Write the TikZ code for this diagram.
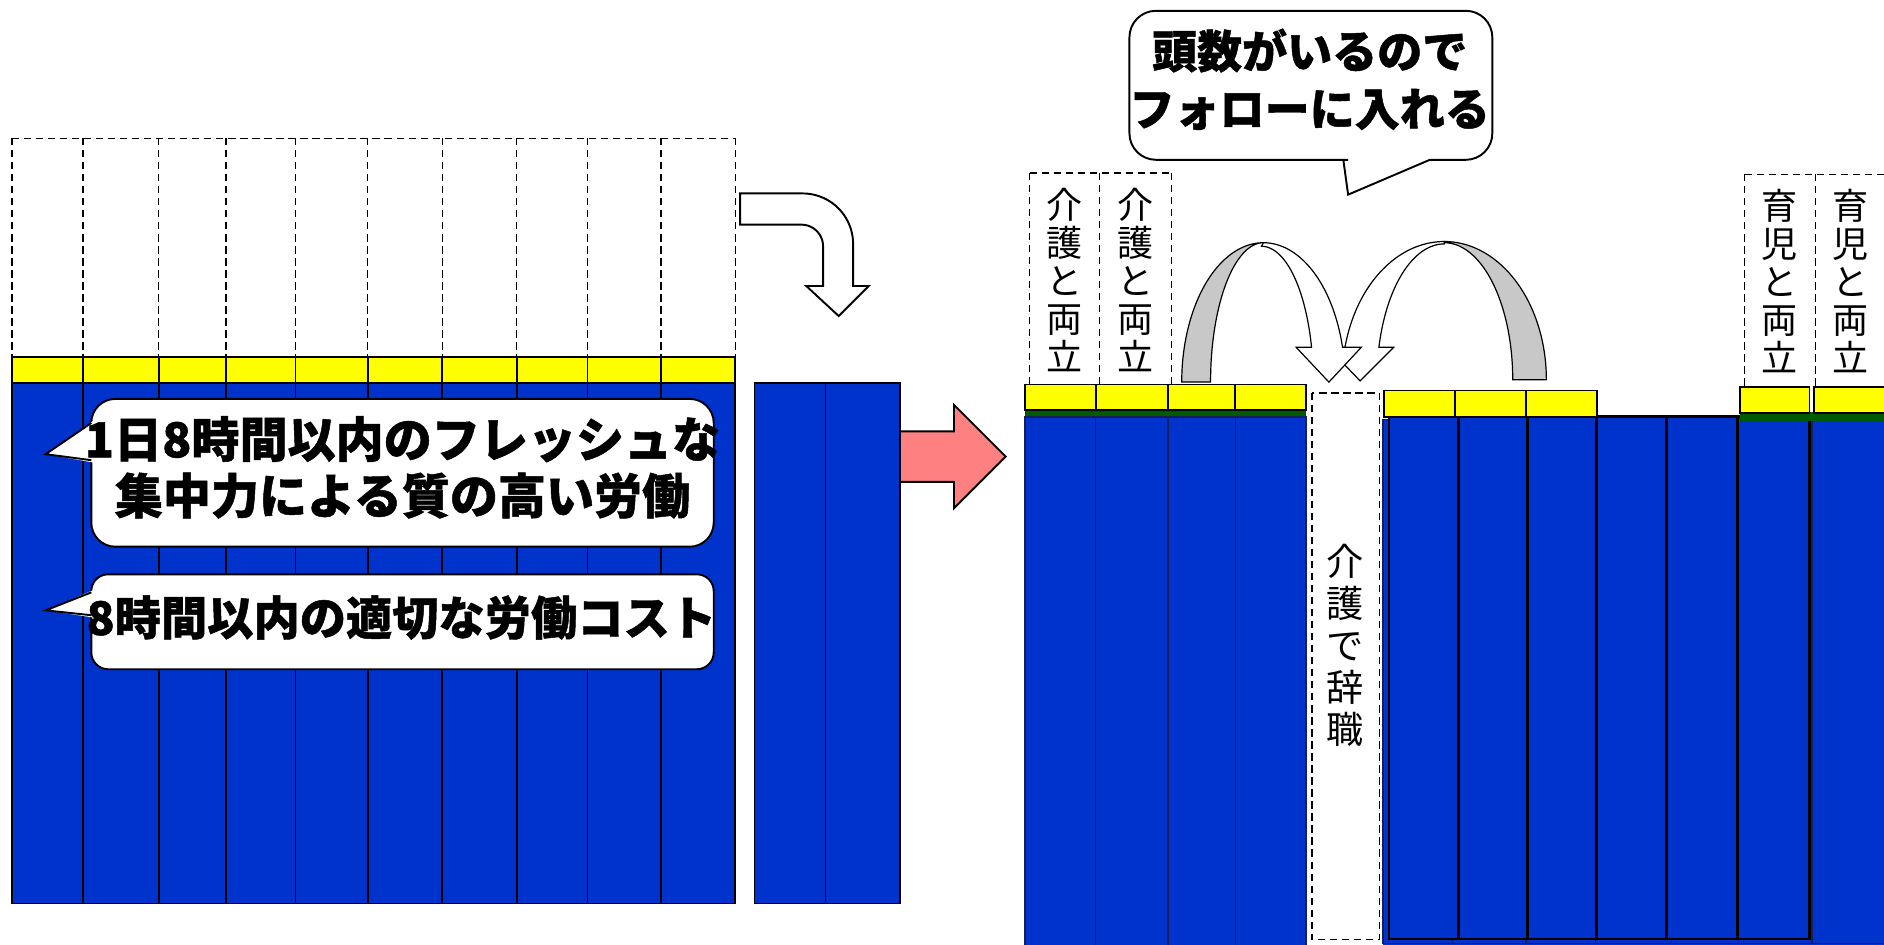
\documentclass[tikz,border=0pt]{standalone}
\usepackage{fontspec}
\newfontfamily\jp{Noto Sans CJK JP}[BoldFeatures={FakeBold=1}]
\definecolor{cblue}{RGB}{0,51,204}
\definecolor{cyel}{RGB}{255,255,0}
\definecolor{cpink}{RGB}{255,128,128}
\definecolor{cgray}{RGB}{200,200,200}
\definecolor{cgreen}{RGB}{0,90,0}
\definecolor{cnavy}{RGB}{20,30,90}
\tikzset{
  cellk/.style={draw=black, line width=0.75pt},
  cellthick/.style={draw=black, line width=1.2pt},
  cellthin/.style={draw=cnavy, line width=0.5pt},
  dashline/.style={draw=black, dash pattern=on 3pt off 2pt, line width=0.55pt},
  bubble/.style={draw=black, fill=white, line width=0.8pt},
  archline/.style={draw=black, line width=0.5pt},
  hookline/.style={draw=black, line width=0.8pt},
  bigtext/.style={font=\jp\bfseries\fontsize{20}{23.5}\selectfont, align=center, inner sep=0pt},
  midtext/.style={font=\jp\bfseries\fontsize{19.25}{23}\selectfont, align=center, inner sep=0pt},
  toptext/.style={font=\jp\bfseries\fontsize{18.75}{24}\selectfont, align=center, inner sep=0pt},
  vtext/.style={font=\jp\fontsize{15}{15.75}\selectfont, align=center, inner sep=0pt},
  vtextb/.style={font=\jp\fontsize{15.5}{17.5}\selectfont, align=center, inner sep=0pt},
}
\begin{document}
\begin{tikzpicture}[x=0.5pt,y=-0.5pt]
\useasboundingbox (0,0) rectangle (1568,786);
\fill[white] (0,0) rectangle (1568,786);
\clip (0,0) rectangle (1568,786);

% ---------- left section ----------
\draw[dashline] (10,115) -- (612,115);
\foreach \x in {10,69,132,188,246,306,368,430,489,550,612}{
  \draw[dashline] (\x,115) -- (\x,297);
}
\foreach \a/\b in {10/69,69/132,132/188,188/246,246/306,306/368,368/430,430/489,489/550,550/612}{
  \draw[cellk, fill=cyel] (\a,297) rectangle (\b,319);
  \draw[cellk, fill=cblue] (\a,319) rectangle (\b,752);
}

% hook arrow
\draw[hookline, fill=white] (616,161) -- (668,161)
  -- plot[domain=270:360, samples=30] ({668+42*cos(\x)},{203+42*sin(\x)})
  -- (710,238) -- (723,238) -- (698,263) -- (671,238) -- (685,238)
  -- plot[domain=360:270, samples=30] ({667+18*cos(\x)},{205+18*sin(\x)})
  -- (616,187) -- cycle;

% pink arrow
\draw[line width=0.8pt, fill=cpink] (749,359) -- (794,359) -- (794,337) -- (837,380) -- (794,423) -- (794,401) -- (749,401);

% second small block
\draw[cellk, fill=cblue] (628,319) rectangle (687,752);
\draw[cellk, fill=cblue] (687,319) rectangle (749,752);

% bubble 1
\draw[bubble, rounded corners=10pt] (76,332) rectangle (594,455);
\fill[white] (38,378) -- (78,350) -- (78,385) -- cycle;
\draw[line width=0.8pt] (76,352) -- (38,378) -- (76,383);
\node[bigtext] (b1) at (335,389) {1日8時間以内のフレッシュな\\集中力による質の高い労働};

% bubble 2
\draw[bubble, rounded corners=7pt] (76,478) rectangle (594,557);
\fill[white] (38,508) -- (78,491) -- (78,514) -- cycle;
\draw[line width=0.8pt] (76,493) -- (38,508) -- (76,512);
\node[midtext] (b2) at (334,514) {8時間以内の適切な労働コスト};

% ---------- right section ----------
% group 1 (kaigo)
\draw[dashline] (857,144) -- (975,144);
\foreach \x in {857,915,975}{ \draw[dashline] (\x,144) -- (\x,320); }
\node[vtext] (k1) at (886,233) {介\\護\\と\\両\\立};
\node[vtext] (k2) at (945,233) {介\\護\\と\\両\\立};
\fill[cgreen] (853,340) rectangle (1087,348);
\foreach \a/\b in {853/912,912/972,972/1028,1028/1087}{
  \draw[cellthin, fill=cblue] (\a,347) rectangle (\b,790);
  \draw[cellk, fill=cyel] (\a,320) rectangle (\b,341);
}

% resigned box
\draw[dashline] (1092,327) rectangle (1148,782);
\node[vtextb] (jishoku) at (1119.5,537) {介\\護\\で\\辞\\職};

% background layer of group 2-4
\fill[cblue] (1151,349) rectangle (1572,790);
\foreach \a/\b in {1151/1209,1209/1270,1270/1328,1328/1391,1391/1451,1451/1508,1508/1572}{
  \draw[cellthin] (\a,349) rectangle (\b,785);
}
% group 2 thick columns
\foreach \a/\b in {1156/1213.5,1213.5/1271,1271/1329,1329/1387,1387/1446,1446/1506}{
  \draw[cellthick, fill=cblue] (\a,347) rectangle (\b,781.5);
}
\foreach \a/\b in {1152/1211,1211/1270,1270/1329}{
  \draw[cellk, fill=cyel] (\a,325) rectangle (\b,347);
}
% group 3/4 (ikuji)
\fill[cgreen] (1448,343) rectangle (1572,350);
\draw[cellk, fill=cyel] (1448,322) rectangle (1506,344);
\draw[cellk, fill=cyel] (1510,322) rectangle (1575,344);
\draw[dashline] (1452,145) -- (1572,145);
\foreach \x in {1452,1511}{ \draw[dashline] (\x,145) -- (\x,322); }
\node[vtext] (i1) at (1481,234) {育\\児\\と\\両\\立};
\node[vtext] (i2) at (1540,234) {育\\児\\と\\両\\立};

% right arch (drawn first)
\draw[archline, fill=cgray]
  plot[domain=360:270, samples=40] ({1202+85*cos(\x)},{316+115*sin(\x)})
  -- plot[domain=270:360, samples=40] ({1202+57*cos(\x)},{316+114*sin(\x)}) -- cycle;
\draw[archline, fill=white]
  plot[domain=270:193.58, samples=40] ({1202+85*cos(\x)},{316+115*sin(\x)})
  -- (1105,289) -- (1132,317) -- (1160,289)
  -- plot[domain=193.82:270, samples=40] ({1202+56*cos(\x)},{316+113*sin(\x)}) -- cycle;

% left arch
\draw[archline, fill=cgray]
  plot[domain=180:270, samples=40] ({1051.5+68*cos(\x)},{318+116*sin(\x)})
  -- plot[domain=270:180, samples=40] ({1051.5+44*cos(\x)},{318+116*sin(\x)}) -- cycle;
\draw[archline, fill=white]
  plot[domain=270:345.5, samples=40] ({1051.5+68*cos(\x)},{318+116*sin(\x)})
  -- (1133,289) -- (1106,318) -- (1078.7,289)
  -- plot[domain=345.13:270, samples=40] ({1050+43*cos(\x)},{318+113*sin(\x)}) -- cycle;

% top bubble
\draw[bubble] (1122,162) -- (1190,133) -- (1200,133) [rounded corners=11pt] -- (1242,133) -- (1242,9) -- (940,9) -- (940,133) -- (1100,133) [sharp corners] -- (1118,133) -- cycle;
\node[toptext] (b3) at (1090,66) {頭数がいるので\\フォローに入れる};
\end{tikzpicture}
\end{document}
